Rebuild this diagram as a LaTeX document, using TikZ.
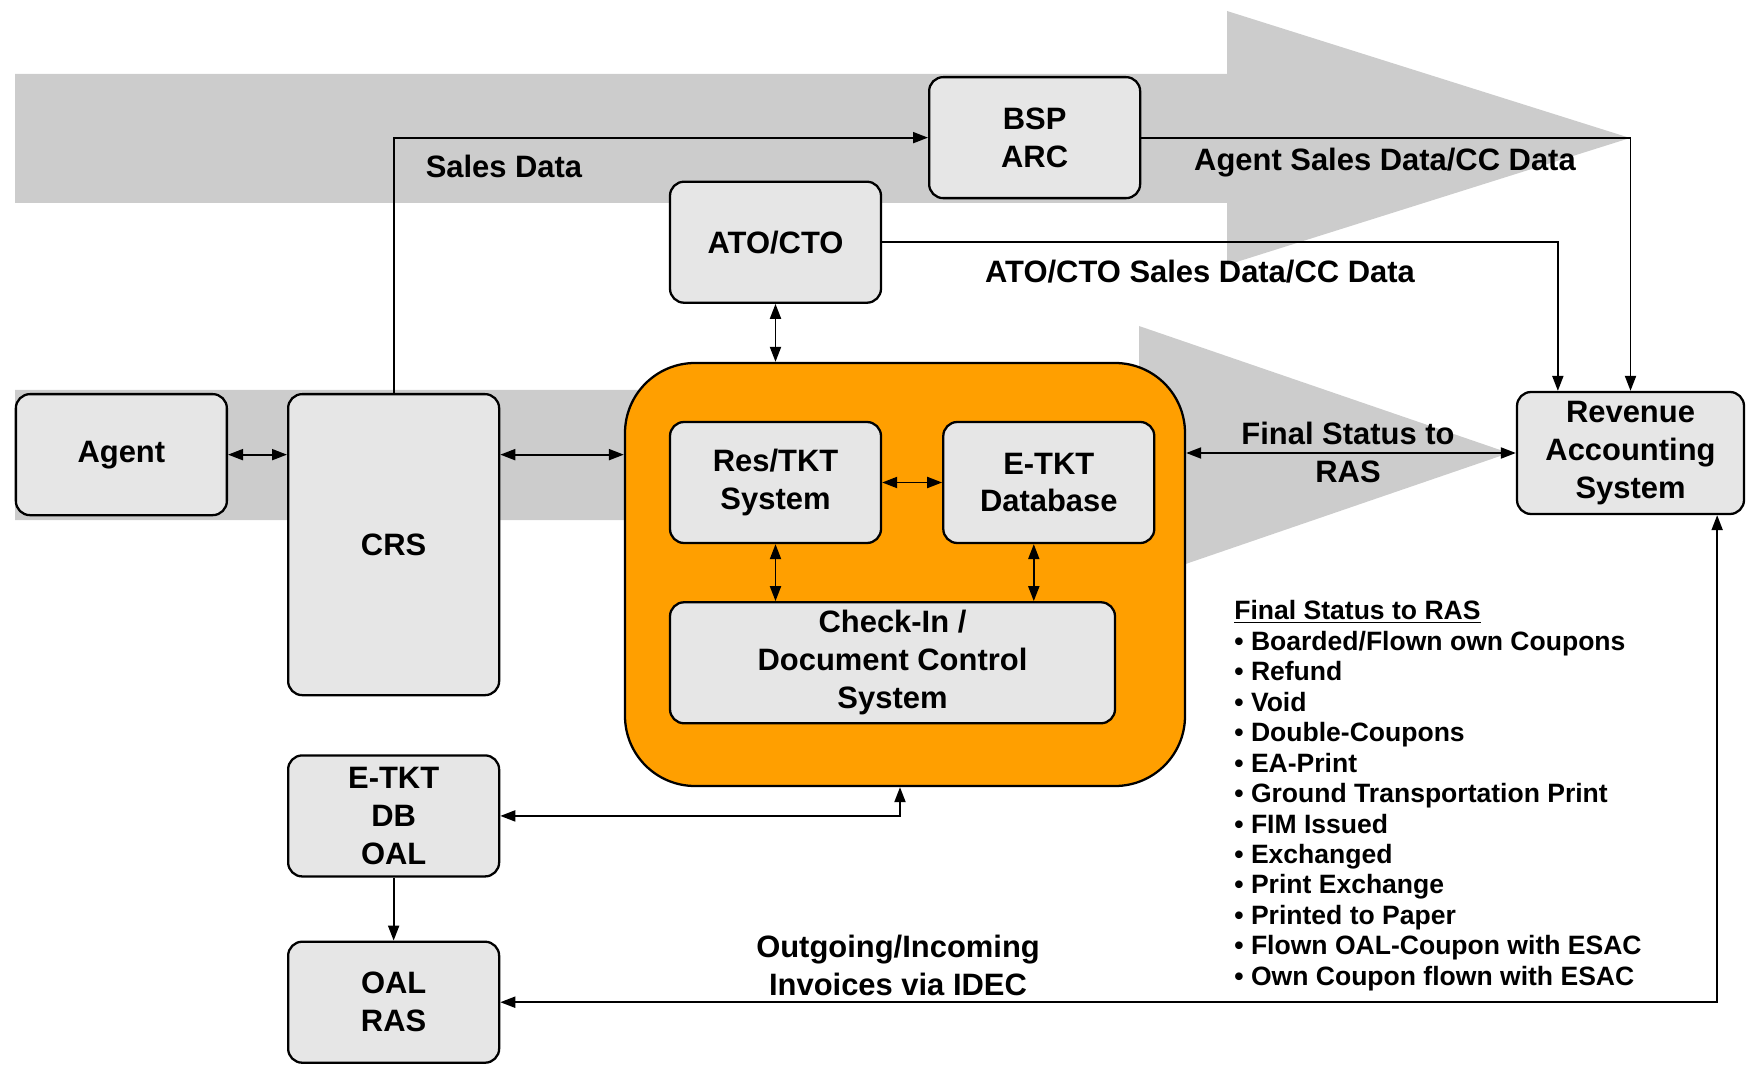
\documentclass[tikz,border=0pt]{standalone}
\usepackage{fontspec}
\setmainfont{Liberation Sans}
\usetikzlibrary{arrows.meta, positioning, calc}
\definecolor{cBand}{HTML}{CCCCCC}
\definecolor{cHub}{HTML}{FF9F00}
\definecolor{cBox}{HTML}{E6E6E6}
\newcommand{\boxfont}{\fontsize{17.6}{21.6}\selectfont\bfseries}
\newcommand{\listfont}{\fontsize{15.1}{17.35}\selectfont\bfseries}
\tikzset{
  sys/.style={rectangle, rounded corners=8pt, draw=black, line width=1.3pt, fill=cBox,
    align=center, font=\boxfont, minimum width=4.22cm, minimum height=2.42cm, inner sep=2pt},
  hub/.style={rectangle, rounded corners=1.4cm, draw=black, line width=1.3pt, fill=cHub,
    minimum width=11.2cm, minimum height=8.46cm},
  flow/.style={-{Triangle[length=3mm, width=2.2mm]}, line width=1.1pt},
  both/.style={{Triangle[length=3mm, width=2.2mm]}-{Triangle[length=3mm, width=2.2mm]}, line width=1.1pt},
  tag/.style={font=\boxfont, align=center, inner sep=0pt},
  band/.style={fill=cBand},
}

\begin{document}
\begin{tikzpicture}[node distance=1.2cm]
\useasboundingbox (0,0) rectangle (35.18,-21.34);

% grey process arrows
\fill[band] (0.3,-1.48) -- (24.54,-1.48) -- (24.54,-0.22) -- (32.6,-2.76) -- (24.54,-5.3) -- (24.54,-4.06) -- (0.3,-4.06) -- cycle;
\fill[band] (0.3,-7.8) -- (22.78,-7.8) -- (22.78,-6.52) -- (30.18,-9.06) -- (22.78,-11.6) -- (22.78,-10.4) -- (0.3,-10.4) -- cycle;

% airline core
\node[hub] (core) at (18.1,-11.49) {};
\node[sys, below right=1.18cm and 0.9cm of core.north west] (res) {Res/TKT\\System};
\node[sys, right=of res] (etkt) {E-TKT\\Database};
\node[sys, minimum width=8.9cm, below=1.14cm of res.south west, anchor=north west] (dcs) {Check-In /\\Document Control\\System};
\node[sys, above=2.34cm of res] (ato) {ATO/CTO};
\node[sys, anchor=north west] (bsp) at (18.56,-1.52) {BSP\\ARC};

% left column
\node[sys, minimum height=6.02cm, anchor=north west] (crs) at (5.74,-7.86) {CRS};
\node[sys, left=1.18cm of crs.north west, anchor=north east] (agent) {Agent};
\node[sys, below=1.16cm of crs] (etktoal) {E-TKT\\DB\\OAL};
\node[sys, below=1.26cm of etktoal] (oalras) {OAL\\RAS};

\node[sys, minimum width=4.54cm, minimum height=2.44cm] (ras) at (32.61,-9.06) {Revenue\\Accounting\\System};

% connectors
\draw[flow] (crs.north) |- (bsp.west);
\draw[flow] (bsp.east) -| (ras.north);
\draw[flow] (ato.east) -| ([xshift=0.84cm]ras.north west);
\draw[both] (ato.south) -- (ato.south |- core.north);
\draw[both] (agent.east) -- (agent.east -| crs.west);
\draw[both] (crs.east |- agent.east) -- (core.west |- agent.east);
\draw[both] (res) -- (etkt);
\draw[both] (res.south) -- (res.south |- dcs.north);
\draw[both] ($(etkt.south)+(-0.3,0)$) -- ($(etkt.south |- dcs.north)+(-0.3,0)$);
\draw[both] (core.east |- ras.west) -- (ras.west);
\draw[both] (etktoal.east) -| ([xshift=-0.1cm]core.south);
\draw[flow] (etktoal) -- (oalras);
\draw[both] (oalras.east) -| ([xshift=-0.56cm]ras.south east);

% labels
\node[tag] (salesdata) at (10.08,-3.32) {Sales Data};
\node[tag] (agentsales) at (27.7,-3.26) {Agent Sales Data/CC Data};
\node[tag] (atosales) at (24.0,-5.44) {ATO/CTO Sales Data/CC Data};
\node[tag] (finalras) at (26.96,-9.04) {Final Status to\\RAS};
\node[tag] (idec) at (17.96,-19.3) {Outgoing/Incoming\\Invoices via IDEC};

\node[font=\listfont, align=left, inner sep=0pt, anchor=north west] (statuslist) at (24.68,-12.0) {%
  \underline{Final Status to RAS}\\
  \textbullet{} Boarded/Flown own Coupons\\
  \textbullet{} Refund\\
  \textbullet{} Void\\
  \textbullet{} Double-Coupons\\
  \textbullet{} EA-Print\\
  \textbullet{} Ground Transportation Print\\
  \textbullet{} FIM Issued\\
  \textbullet{} Exchanged\\
  \textbullet{} Print Exchange\\
  \textbullet{} Printed to Paper\\
  \textbullet{} Flown OAL-Coupon with ESAC\\
  \textbullet{} Own Coupon flown with ESAC};
\end{tikzpicture}
\end{document}
